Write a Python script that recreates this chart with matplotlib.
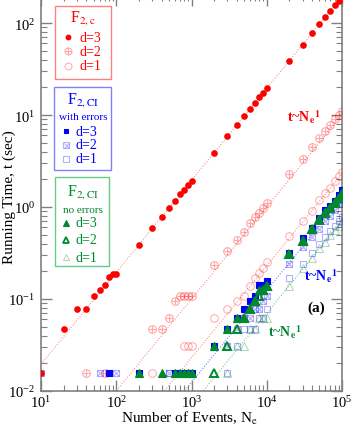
import numpy as np
import matplotlib
matplotlib.use('Agg')
import matplotlib.pyplot as plt
from matplotlib.lines import Line2D
from matplotlib.patches import Rectangle

plt.rcParams['font.family'] = ['Liberation Serif', 'DejaVu Serif']
plt.rcParams['mathtext.fontset'] = 'stix'

# number of events
n_events = [10, 20, 30, 40, 50, 60, 70, 80, 90, 100,
            200, 300, 400, 500, 600, 700, 800, 900, 1000,
            2000, 3000, 4000, 5000, 6000, 7000, 8000, 9000, 10000,
            20000, 30000, 40000, 50000, 60000, 70000, 80000, 90000, 100000]

# F2,c running times (sec)
fc_d3 = [0.0156, 0.047, 0.078, 0.078, 0.109, 0.125, 0.141, 0.172, 0.188, 0.188,
         0.39, 0.59, 0.77, 0.98, 1.16, 1.37, 1.53, 1.73, 1.94,
         3.9, 5.85, 7.8, 9.7, 11.7, 13.6, 15.6, 17.5, 19.5,
         39, 58, 78, 98, 117, 136, 156, 175, 195]
fc_d2 = [None, None, None, 0.0156, None, None, 0.0156, None, None, None,
         None, 0.047, 0.047, 0.0625, 0.094, 0.109, 0.109, 0.109, 0.109,
         0.237, 0.33, 0.44, 0.54, 0.67, 0.78, 0.87, 0.98, 1.11,
         2.29, 3.3, 4.47, 5.6, 6.7, 7.8, 9.1, 9.9, 11.1]
fc_d1 = [None, None, None, None, None, None, None, None, None, None,
         None, 0.0156, None, None, None, None, 0.031, 0.031, 0.031,
         0.0625, 0.078, 0.094, 0.109, 0.137, 0.17, 0.19, 0.22, 0.25,
         0.49, 0.71, 0.9, 1.19, 1.41, 1.6, 1.92, 2.15, 2.43]

# F2,CI with errors
ci_d3 = [None, None, None, None, None, None, None, 0.0156, None, None,
         0.0156, None, None, None, 0.0156, 0.0156, 0.0156, 0.0156, 0.0156,
         0.031, 0.047, 0.0625, 0.078, 0.094, 0.109, 0.141, 0.141, 0.156,
         0.32, 0.46, 0.59, 0.76, 0.92, 1.03, 1.16, 1.34, 1.53]
ci_d2 = [0.0156, None, None, None, None, 0.0156, None, None, None, 0.0156,
         None, None, None, 0.0156, None, None, None, None, None,
         None, 0.031, 0.047, 0.0625, 0.0625, 0.078, 0.078, 0.094, 0.109,
         0.24, 0.37, 0.47, 0.58, 0.7, 0.8, 0.92, 1.07, 1.19]
ci_d1 = [None, None, None, None, None, None, None, None, None, None,
         None, None, None, 0.0156, None, None, None, None, None,
         None, 0.0156, 0.031, 0.047, 0.047, 0.047, 0.0625, 0.0625, 0.078,
         0.17, 0.24, 0.32, 0.4, 0.47, 0.55, 0.63, 0.7, 0.78]

# F2,CI no errors
ncl_d3 = [None, None, None, None, None, None, None, None, None, None,
          0.0156, None, 0.0156, None, 0.0156, 0.0156, 0.0156, 0.0156, 0.0156,
          0.031, 0.047, 0.0625, 0.0625, 0.078, 0.094, 0.125, 0.125, 0.14,
          0.31, 0.44, 0.58, 0.75, 0.88, 1.0, 1.15, 1.3, 1.45]
ncl_d2 = [None, None, None, None, None, None, None, None, None, None,
          None, None, None, None, None, None, None, None, None,
          0.0156, 0.031, 0.047, 0.0625, 0.078, 0.094, 0.109, 0.125, 0.14,
          0.31, 0.43, 0.57, 0.72, 0.86, 0.97, 1.1, 1.25, 1.4]
ncl_d1 = [None, None, None, None, None, None, None, None, None, None,
          None, None, None, None, None, None, None, None, None,
          None, 0.0156, 0.031, 0.031, 0.047, 0.047, 0.0625, 0.0625, 0.0625,
          0.14, 0.22, 0.28, 0.36, 0.42, 0.5, 0.56, 0.63, 0.7]

# t ~ N^1 guide lines: (slope, colour)
guides = [(1.95e-3, '#ff9090'), (1.0e-4, '#ff9090'), (2.3e-5, '#ff9090'),
          (1.24e-5, '#8080ff'), (7.0e-6, '#80cc99')]

RED = '#ff0000'
BLUE = '#0000ff'
GREEN = '#00892e'

W, H = 356, 427


def px(x, y):
    return x / W, 1 - y / H


fig = plt.figure(figsize=(W / 100, H / 100), dpi=100)
ax = fig.add_axes([41 / W, 1 - 392 / H, 301 / W, (392 + 3.6) / H])
ax.set_xscale('log')
ax.set_yscale('log')
ax.set_xlim(10, 1e5)
ax.set_ylim(0.01, 200)

N = np.array(n_events, dtype=float)
nn = np.logspace(1, 5, 200)
for k, col in guides:
    ax.plot(nn, k * nn, ls=(0, (1, 1.5)), lw=0.8, color=col, zorder=1)


def series(vals, marker, color, ms, mfc='none', mew=0.8, alpha=1.0, over=None, z=3):
    v = np.array(vals, dtype=float)
    ax.plot(N, v, ls='none', marker=marker, ms=ms, mfc=mfc, mec=color,
            mew=mew, alpha=alpha, zorder=z)
    if over:
        ax.plot(N, v, ls='none', marker=over, ms=ms * 0.8, mec=color,
                mew=mew, alpha=alpha, zorder=z)


series(fc_d1, 'o', RED, 5.5, alpha=0.3, z=2)
series(fc_d2, 'o', RED, 5.5, alpha=0.35, over='+', z=2)
series(ci_d1, 's', BLUE, 5, alpha=0.3, z=3)
series(ci_d2, 's', BLUE, 5, alpha=0.3, over='x', z=3)
series(ncl_d1, '^', GREEN, 5.5, alpha=0.3, z=3)
series(ci_d3, 's', BLUE, 3.8, mfc=BLUE, z=4)
series(ncl_d2, '^', GREEN, 5.5, mew=1.4, z=5)
series(ncl_d3, '^', GREEN, 5.5, mfc=GREEN, z=5)
series(fc_d3, 'o', RED, 4.8, mfc=RED, mew=0, z=6)

ax.tick_params(which='both', direction='in', top=True, right=True,
               color='#808080', labelsize=10.5)
ax.tick_params(which='major', length=8, width=1)
ax.tick_params(which='minor', length=4.5, width=0.8)
ax.tick_params(axis='y', pad=4)
ax.tick_params(axis='x', pad=2)
for s in ax.spines.values():
    s.set_color('#808080')
    s.set_linewidth(1.2)

# axis titles placed by hand so they fit in the small canvas
fig.text(*px(9, 197), 'Running Time, t (sec)', fontsize=11,
         rotation=90, ha='center', va='center')
fig.text(*px(190, 418), r'Number of Events, N$_\mathrm{e}$', fontsize=11,
         ha='center', va='center')

# guide line labels
lab = r't~N$_\mathbf{e}$$^{\mathbf{1}}$'
fig.text(*px(287, 122), lab, color=RED, fontsize=10, fontweight='bold')
fig.text(*px(304, 281), lab, color=BLUE, fontsize=10, fontweight='bold')
fig.text(*px(268, 337), lab, color=GREEN, fontsize=10, fontweight='bold')
fig.text(*px(307, 312), '(a)', color='black', fontsize=11, fontweight='bold')


def box(x0, y0, x1, y1, ec):
    fig.add_artist(Rectangle(px(x0, y1), (x1 - x0) / W, (y1 - y0) / H,
                             transform=fig.transFigure, fill=False,
                             ec=ec, lw=1.0))


def entry(y, marker, color, label, tcol, ms=5, mfc='none', mew=0.8,
          alpha=1.0, over=None, xm=68, xt=79):
    fig.add_artist(Line2D([xm / W], [1 - y / H], marker=marker, ms=ms,
                          mfc=mfc, mec=color, mew=mew, alpha=alpha, ls='none',
                          transform=fig.transFigure))
    if over:
        fig.add_artist(Line2D([xm / W], [1 - y / H], marker=over, ms=ms * 0.8,
                              mec=color, mew=mew, alpha=alpha, ls='none',
                              transform=fig.transFigure))
    fig.text(*px(xt, y), label, color=tcol, fontsize=10, va='center')


# legend 1: F2,c
box(55, 7, 111, 80, '#ff8080')
fig.text(*px(83, 18), r'F$_\mathrm{2,c}$', color=RED, fontsize=11.5,
         ha='center', va='center')
entry(38, 'o', RED, 'd=3', RED, ms=4.2, mfc=RED, mew=0)
entry(52, 'o', RED, 'd=2', RED, alpha=0.35, over='+')
entry(67, 'o', RED, 'd=1', RED, alpha=0.3)

# legend 2: F2,CI with errors
box(54, 88, 111, 171, '#8080ff')
fig.text(*px(83, 100), r'F$_\mathrm{2,CI}$', color=BLUE, fontsize=11.5,
         ha='center', va='center')
fig.text(*px(83, 118), 'with errors', color=BLUE, fontsize=8,
         ha='center', va='center')
entry(132, 's', BLUE, 'd=3', BLUE, ms=3.5, mfc=BLUE, xm=66, xt=76)
entry(146, 's', BLUE, 'd=2', BLUE, ms=4.5, alpha=0.3, over='x', xm=66, xt=76)
entry(160, 's', BLUE, 'd=1', BLUE, ms=4.5, alpha=0.3, xm=66, xt=76)

# legend 3: F2,CI no errors
box(55, 178, 109, 267, '#66cc88')
fig.text(*px(83, 192), r'F$_\mathrm{2,CI}$', color=GREEN, fontsize=11.5,
         ha='center', va='center')
fig.text(*px(83, 211), 'no errors', color=GREEN, fontsize=8,
         ha='center', va='center')
entry(224, '^', GREEN, 'd=3', GREEN, ms=4.5, mfc=GREEN, xm=66, xt=76)
entry(241, '^', GREEN, 'd=2', GREEN, ms=4.5, mew=1.3, xm=66, xt=76)
entry(258, '^', GREEN, 'd=1', GREEN, ms=4.5, alpha=0.3, xm=66, xt=76)

fig.savefig('out.png', dpi=100)
